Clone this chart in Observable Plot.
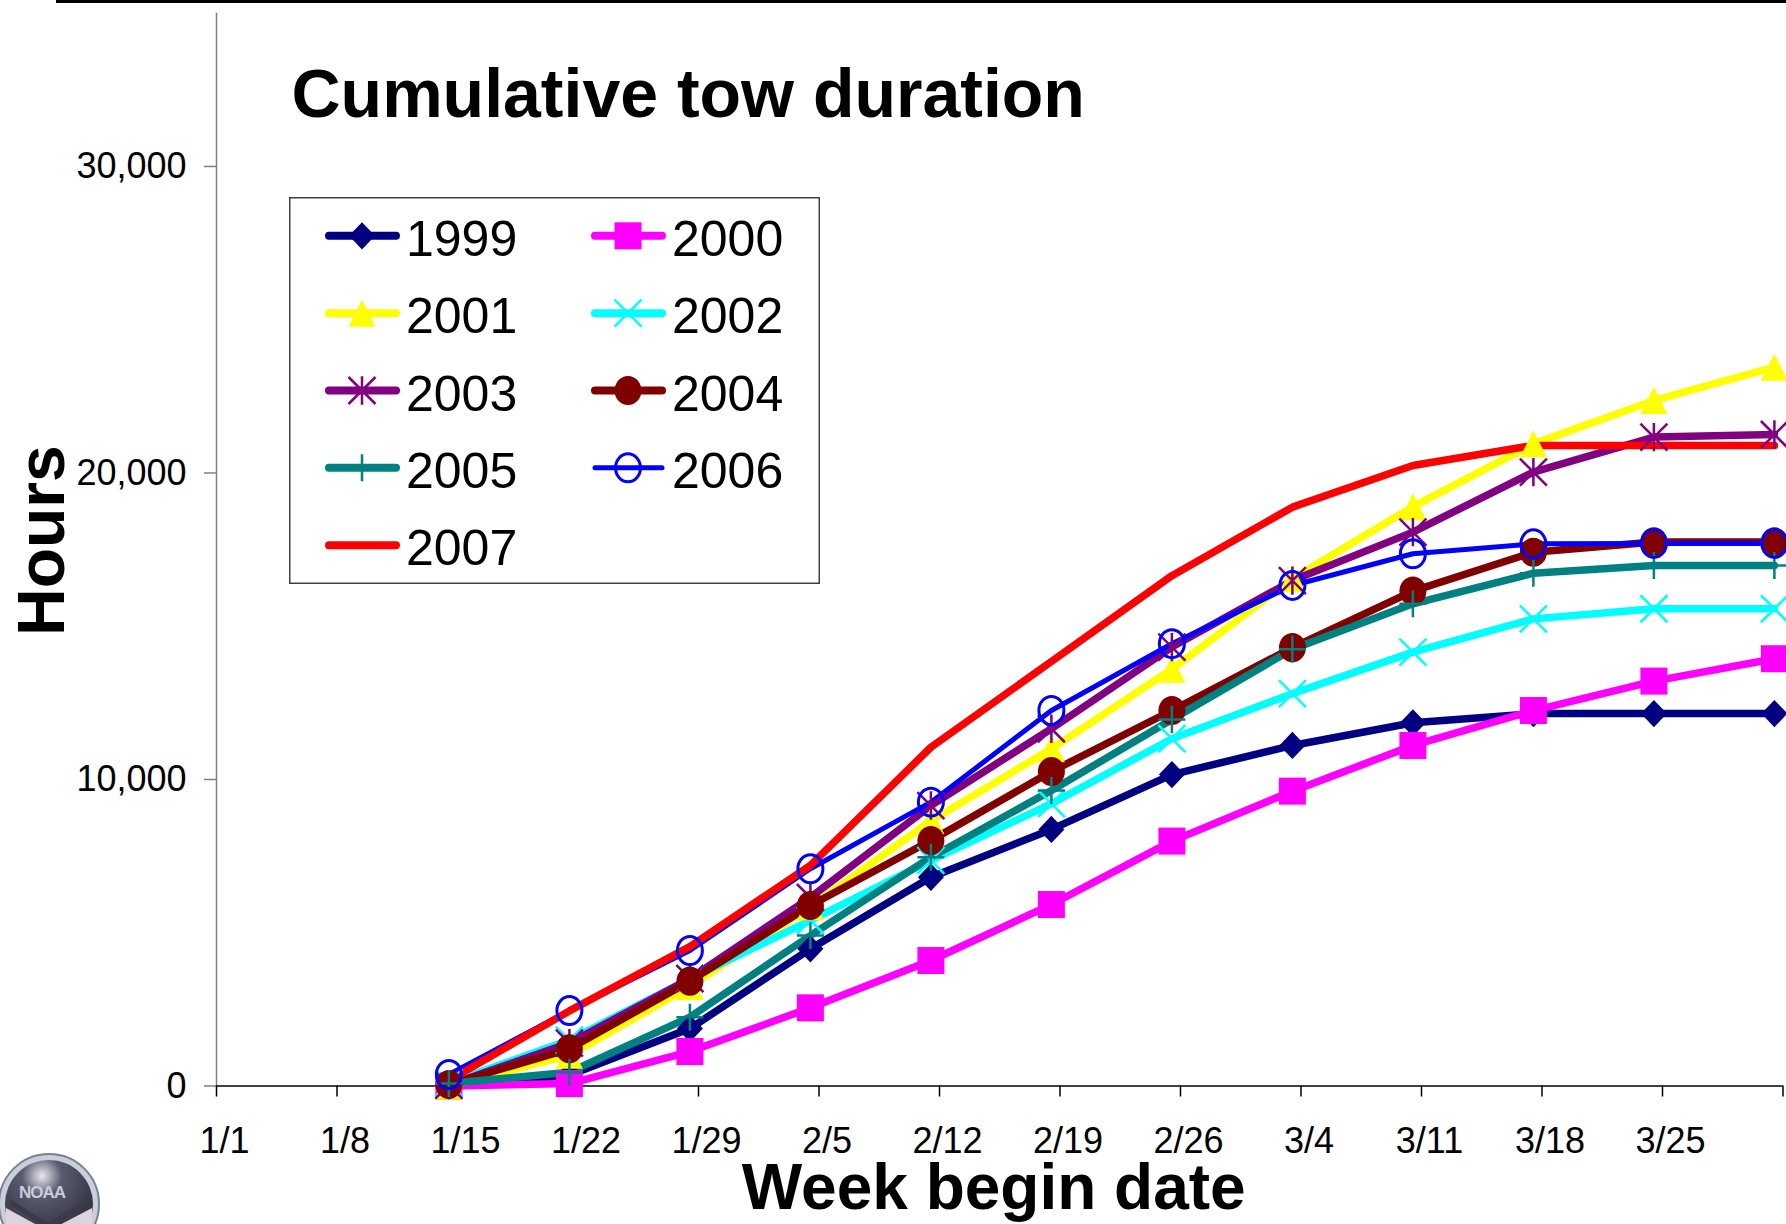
<!DOCTYPE html>
<html>
<head>
<meta charset="utf-8">
<script src="https://cdn.jsdelivr.net/npm/d3@7"></script>
<script src="https://cdn.jsdelivr.net/npm/@observablehq/plot@0.6"></script>
<style>
  html, body { margin: 0; padding: 0; background: #fff; overflow: hidden; }
  #wrap { position: relative; width: 1786px; height: 1224px; overflow: hidden; font-family: "Liberation Sans", Arial, sans-serif; }
  #chart svg { display: block; }
  #topline { position: absolute; left: 56px; top: 0; width: 1730px; height: 3px; background: #000; }
  #legend { position: absolute; left: 289px; top: 197px; }
  #logo { position: absolute; left: 0; top: 1150px; }
</style>
</head>
<body>
<div id="wrap">
  <div id="chart"></div>
  <div id="topline"></div>
  <div id="legend"></div>
  <svg id="logo" width="106" height="74" viewBox="0 0 106 74">
    <defs>
      <radialGradient id="lg" cx="0.42" cy="0.18" r="0.75">
        <stop offset="0" stop-color="#e8e8f0"/>
        <stop offset="0.3" stop-color="#5b5b70"/>
        <stop offset="1" stop-color="#2b2b3a"/>
      </radialGradient>
    </defs>
    <circle cx="49" cy="54" r="50" fill="#c9cedb" stroke="#7a8196" stroke-width="2"/>
    <circle cx="49" cy="54" r="44" fill="url(#lg)"/>
    <path d="M6,58 L46,80 L50,80 L92,58 L92,74 L6,74 Z" fill="#ddd3da"/>
    <path d="M10,52 L48,76 L88,52" fill="none" stroke="#3a3a48" stroke-width="5"/>
    <text x="42" y="48" text-anchor="middle" font-family="Liberation Sans, Arial, sans-serif" font-weight="bold" font-size="17" fill="#c9ccd6" letter-spacing="-1">NOAA</text>
  </svg>
</div>
<script>
// ---------------- data ----------------
const weeks = ["1/15","1/22","1/29","2/5","2/12","2/19","2/26","3/4","3/11","3/18","3/25","4/1"];
const xTickLabels = ["1/1","1/8","1/15","1/22","1/29","2/5","2/12","2/19","2/26","3/4","3/11","3/18","3/25"];
const xAxisEnd = "4/1";               // last (unlabelled) tick
const yTicks = [0, 10000, 20000, 30000];
const years = ["1999","2000","2001","2002","2003","2004","2005","2006","2007"];

const h1999 = [0, 350, 1875, 4475, 6810, 8370, 10160, 11110, 11850, 12150, 12150, 12150];
const h2000 = [0, 80, 1125, 2550, 4095, 5920, 7990, 9620, 11110, 12250, 13210, 13940];
const h2001 = [0, 1000, 3250, 5850, 8650, 11000, 13600, 16550, 18900, 20950, 22365, 23450];
const h2002 = [100, 1500, 3500, 5400, 7360, 9210, 11330, 12800, 14155, 15240, 15570, 15570];
const h2003 = [30, 1400, 3500, 6150, 9150, 11655, 14320, 16490, 18070, 20030, 21170, 21255];
const h2004 = [50, 1213, 3420, 5890, 8010, 10260, 12250, 14300, 16145, 17415, 17750, 17750];
const h2005 = [80, 450, 2245, 4910, 7465, 9640, 11960, 14250, 15730, 16730, 16980, 16980];
const h2006 = [375, 2460, 4420, 7087, 9260, 12250, 14430, 16330, 17365, 17690, 17700, 17700];
const h2007 = [180, 2450, 4550, 7200, 11050, 13850, 16650, 18885, 20245, 20900, 20900, 20900];
const seriesArrays = [h1999, h2000, h2001, h2002, h2003, h2004, h2005, h2006, h2007];

// ---------------- styles ----------------
const colors = ["#000080","#FF00FF","#FFFF00","#00FFFF","#800080","#800000","#008080","#0000FF","#FF0000"];
const lineWidths = [7.5, 7.5, 7.5, 7.5, 7.5, 7.5, 7.5, 5, 7.5];

const K = 0.5523;
function ellipse(c, rx, ry) {
  c.moveTo(rx, 0);
  c.bezierCurveTo(rx, ry * K, rx * K, ry, 0, ry);
  c.bezierCurveTo(-rx * K, ry, -rx, ry * K, -rx, 0);
  c.bezierCurveTo(-rx, -ry * K, -rx * K, -ry, 0, -ry);
  c.bezierCurveTo(rx * K, -ry, rx, -ry * K, rx, 0);
  c.closePath();
}
const rOf = s => Math.sqrt(s / Math.PI);
const SYM = {
  diamond: {draw(c, s) { const r = rOf(s); c.moveTo(0, -r * 1.05); c.lineTo(r, 0); c.lineTo(0, r * 1.05); c.lineTo(-r, 0); c.closePath(); }},
  square: {draw(c, s) { const r = rOf(s); c.moveTo(-r, -r); c.lineTo(r, -r); c.lineTo(r, r); c.lineTo(-r, r); c.closePath(); }},
  triangle: {draw(c, s) { const r = rOf(s); c.moveTo(0, -r); c.lineTo(r, r); c.lineTo(-r, r); c.closePath(); }},
  times: {draw(c, s) { const r = rOf(s); c.moveTo(-r, -r); c.lineTo(r, r); c.moveTo(-r, r); c.lineTo(r, -r); }},
  star: {draw(c, s) { const r = rOf(s); c.moveTo(-r, -r); c.lineTo(r, r); c.moveTo(-r, r); c.lineTo(r, -r); c.moveTo(0, -r * 1.05); c.lineTo(0, r * 1.05); }},
  dot: {draw(c, s) { const r = rOf(s); ellipse(c, r, r * 1.08); }},
  plus: {draw(c, s) { const r = rOf(s); c.moveTo(-r, 0); c.lineTo(r, 0); c.moveTo(0, -r); c.lineTo(0, r); }},
  ring: {draw(c, s) { const r = rOf(s); ellipse(c, r, r * 1.12); }}
};
const markers = [
  {sym: SYM.diamond, r: 13, filled: true},
  {sym: SYM.square, r: 13.5, filled: true},
  {sym: SYM.triangle, r: 13.5, filled: true},
  {sym: SYM.times, r: 13.5, sw: 2.5},
  {sym: SYM.star, r: 13.5, sw: 2.5},
  {sym: SYM.dot, r: 13.5, filled: true},
  {sym: SYM.plus, r: 13.5, sw: 2.5},
  {sym: SYM.ring, r: 12.5, sw: 3},
  null
];

// ---------------- table ----------------
const dayOf = s => { const [m, d] = s.split("/").map(Number); return (Date.UTC(2008, m - 1, d) - Date.UTC(2008, 0, 1)) / 864e5; };
const TICK_SHIFT = 0.5; // Excel date axis puts tick marks half a day after the category
const rows = [];
years.forEach((yr, i) => seriesArrays[i].forEach((v, j) => rows.push({year: yr, day: dayOf(weeks[j]), hours: v})));

const xTickValues = [...xTickLabels, xAxisEnd].map(s => dayOf(s) + TICK_SHIFT);
const labelMap = new Map(xTickLabels.map(s => [dayOf(s) + TICK_SHIFT, s]));
const xDomain = [dayOf(xTickLabels[0]) + TICK_SHIFT, dayOf(xAxisEnd) + TICK_SHIFT];

const marks = [
  Plot.ruleX([xDomain[0]], {stroke: "#808080", strokeWidth: 1.5}),
  Plot.ruleY([0], {stroke: "#000", strokeWidth: 1.5}),
  Plot.axisY(yTicks, {tickSize: 12, tickPadding: 18, tickFormat: d3.format(","), fontSize: 36, stroke: "#808080", strokeWidth: 1.5, label: null}),
  Plot.axisX(xTickValues, {tickSize: 11, tickFormat: () => "", stroke: "#000", strokeWidth: 1.5, label: null}),
  Plot.axisX(xTickValues, {tickSize: 0, tickPadding: 41, tickFormat: d => labelMap.get(d) ?? "", fontSize: 36, dx: 8, label: null})
];
years.forEach((yr, i) => {
  marks.push(Plot.line(rows.filter(r => r.year === yr), {
    x: "day", y: "hours", stroke: colors[i], strokeWidth: lineWidths[i],
    strokeLinejoin: "round", strokeLinecap: "round"
  }));
});
years.forEach((yr, i) => {
  const m = markers[i];
  if (!m) return;
  marks.push(Plot.dot(rows.filter(r => r.year === yr), {
    x: "day", y: "hours", symbol: m.sym, r: m.r,
    fill: m.filled ? colors[i] : "none",
    stroke: m.filled ? "none" : colors[i],
    strokeWidth: m.sw ?? 0
  }));
});
marks.push(
  Plot.text(["Cumulative tow duration"], {frameAnchor: "top-left", dx: 75, dy: 104, textAnchor: "start", lineAnchor: "bottom", fontSize: 68, fontWeight: "bold", fill: "#000"}),
  Plot.text(["Hours"], {frameAnchor: "left", rotate: -90, dx: -153, dy: -9, textAnchor: "middle", lineAnchor: "bottom", fontSize: 66, fontWeight: "bold", fill: "#000"}),
  Plot.text(["Week begin date"], {frameAnchor: "bottom", dx: -6, dy: 122.5, textAnchor: "middle", lineAnchor: "bottom", fontSize: 64, fontWeight: "bold", fill: "#000"})
);

const chart = Plot.plot({
  width: 1786, height: 1224,
  marginLeft: 216, marginRight: 3.5, marginTop: 12.7, marginBottom: 138.5,
  style: {fontFamily: '"Liberation Sans", Arial, sans-serif', background: "transparent", overflow: "visible", color: "#000"},
  x: {type: "linear", domain: xDomain, axis: null},
  y: {type: "linear", domain: [0, 35000], axis: null},
  marks
});
document.getElementById("chart").appendChild(chart);

// ---------------- legend ----------------
const LW = 531, LH = 387;
const leg = d3.create("svg").attr("width", LW).attr("height", LH)
  .attr("font-family", '"Liberation Sans", Arial, sans-serif');
leg.append("rect").attr("x", 0.75).attr("y", 0.75).attr("width", LW - 1.5).attr("height", LH - 1.5)
  .attr("fill", "#fff").attr("stroke", "#404040").attr("stroke-width", 1.5);
const colX = [{x0: 40, x1: 107, mx: 73, tx: 117}, {x0: 306, x1: 373, mx: 339, tx: 383}];
years.forEach((yr, i) => {
  const row = Math.floor(i / 2), c = colX[i % 2];
  const cy = 38.8 + 77.35 * row;
  const g = leg.append("g");
  g.append("line").attr("x1", c.x0).attr("x2", c.x1).attr("y1", cy).attr("y2", cy)
    .attr("stroke", colors[i]).attr("stroke-width", i === 7 ? 5 : 8).attr("stroke-linecap", "round");
  const m = markers[i];
  if (m) {
    g.append("path").attr("d", d3.symbol(m.sym, m.r * m.r * Math.PI)())
      .attr("transform", `translate(${c.mx},${cy})`)
      .attr("fill", m.filled ? colors[i] : "none")
      .attr("stroke", m.filled ? "none" : colors[i])
      .attr("stroke-width", m.sw ?? 0);
  }
  g.append("text").attr("x", c.tx).attr("y", cy + 20).attr("font-size", 50).attr("fill", "#000").text(yr);
});
document.getElementById("legend").appendChild(leg.node());
</script>
</body>
</html>
